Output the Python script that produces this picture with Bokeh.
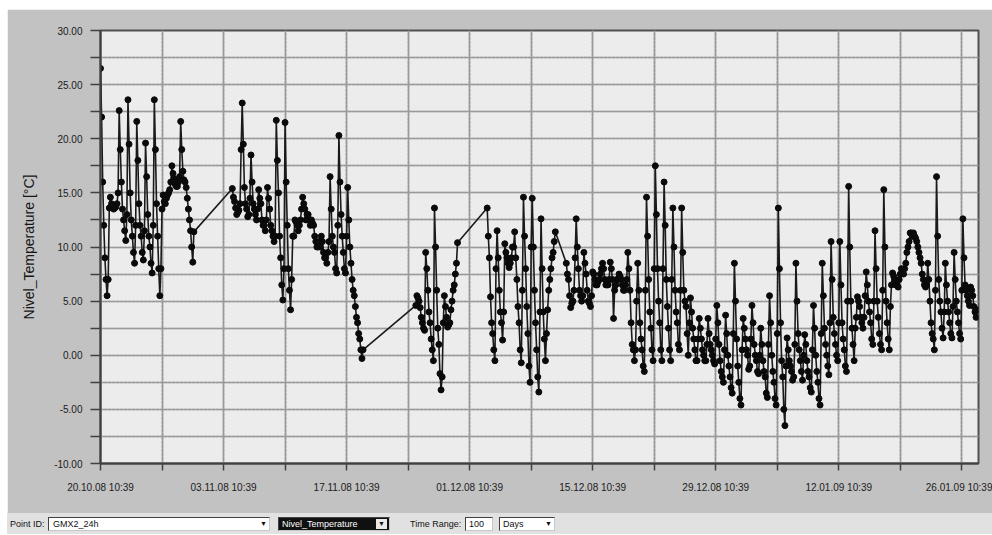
from bokeh.plotting import figure
from bokeh.models import Range1d, FixedTicker, PrintfTickFormatter, Grid, Div
from bokeh.layouts import column
from bokeh.embed import file_html
from bokeh.resources import INLINE

# ---------------- data ----------------
# temperatures sampled every 3 hours (8 per day), days counted from 20.10.08 10:39
SAMPLES_PER_DAY = 8

START_A = 0.0
TEMP_A = [
    26.5, 22.0, 16.0, 12.0, 9.0, 7.0, 5.5, 7.0,
    13.6, 14.6, 14.0, 13.8, 13.5, 13.6, 13.7, 14.0,
    15.0, 22.6, 19.0, 16.0, 13.5, 12.5, 11.5, 10.6,
    13.0, 23.6, 19.5, 15.0, 12.5, 11.0, 9.5, 8.5,
    12.0, 21.6, 18.0, 14.0, 12.0, 11.0, 9.5, 8.8,
    11.5, 19.6, 16.5, 13.0, 11.0, 10.0, 8.5, 7.6,
    12.0, 23.6, 19.0, 14.0, 11.0, 8.0, 5.5, 8.0,
    13.5, 14.8, 14.2, 14.0, 14.5, 14.8, 15.0, 15.3,
    16.0, 17.5, 16.8, 16.3, 15.8, 15.6, 15.6, 16.0,
    16.5, 21.6, 19.0, 17.0, 16.2, 16.0, 15.5, 14.5,
    13.5, 12.5, 11.5, 10.0, 8.6, 11.4,
]

START_B = 15.0
TEMP_B = [
    15.4, 14.6, 14.2, 13.6, 13.0, 13.2, 13.4, 14.0,
    19.0, 23.3, 19.5, 15.5, 14.0, 13.5, 12.8, 13.0,
    14.5, 18.5, 16.0, 14.0, 13.5, 13.0, 12.5, 13.5,
    15.3, 14.5, 14.0, 12.5, 12.0, 12.0, 11.5, 12.5,
    15.5, 14.5, 13.5, 12.0, 11.5, 11.0, 10.5, 11.0,
    21.7, 18.0, 15.0, 11.0, 9.0, 6.5, 5.1, 8.0,
    21.5, 16.0, 12.0, 8.0, 6.0, 4.2, 7.0, 11.0,
    11.0, 12.5, 12.3, 12.0, 11.5, 12.0, 12.5, 13.5,
    14.6, 14.0, 13.5, 12.5, 13.0, 13.0, 12.5, 12.0,
    12.5, 12.2, 12.0, 11.0, 10.5, 10.0, 10.0, 10.5,
    10.0, 11.0, 10.5, 9.5, 9.0, 9.0, 8.5, 9.5,
    10.5, 16.5, 13.5, 11.0, 10.0, 9.5, 8.0, 7.6,
    12.0, 20.3, 16.0, 13.0, 11.0, 9.5, 8.0, 7.6,
    11.0, 15.5, 12.5, 10.0, 8.5, 7.0, 6.0, 5.5,
    4.5, 3.5, 3.0, 2.0, 1.5, 0.5, -0.3, 0.5,
]

START_C = 35.875
TEMP_C = [
    4.6,
    5.5, 5.3, 5.0, 4.4, 3.5, 3.0, 2.5, 2.3,
    9.5, 8.0, 6.0, 4.0, 3.0, 1.5, 0.5, -0.5,
    13.6, 10.0, 6.0, 2.5, 1.0, -1.7, -3.2, -2.0,
    3.0, 5.5, 4.5, 3.5, 2.6, 2.8, 3.0, 4.2,
    5.0, 6.0, 6.5, 7.5, 8.5, 10.4,
]

START_D = 44.0
TEMP_D = [
    13.6, 11.0, 9.0, 5.4, 3.0, 2.0, 0.5, -0.5,
    8.0, 11.5, 9.0, 6.0, 4.0, 3.0, 1.4, 4.0,
    10.3, 9.5, 9.0, 8.5, 8.1, 8.5, 9.0, 10.0,
    10.0, 11.4, 9.0, 7.0, 4.5, 3.0, 0.5, -0.7,
    6.0, 14.6, 11.0, 8.0, 4.5, 2.0, -1.0, -2.5,
    10.0, 14.5, 10.0, 6.0, 3.0, 0.5, -2.0, -3.4,
    4.0, 12.6, 8.0, 4.0, 1.5, -0.5, 2.0, 4.2,
    6.0, 7.0, 8.0, 9.0, 9.5, 10.5, 11.4,
]

START_E = 53.0
TEMP_E = [
    8.5, 7.5, 7.0, 5.5, 4.4, 4.8, 5.0, 6.0,
    9.0, 12.6, 10.0, 8.0, 6.0, 5.5, 5.0, 5.5,
    9.5, 8.5, 7.5, 6.0, 5.0, 4.8, 4.5, 5.5,
    7.7, 7.5, 7.0, 6.5, 6.5, 6.8, 7.0, 7.5,
    8.0, 8.5, 8.0, 7.0, 6.5, 6.5, 6.5, 7.0,
    8.6, 8.0, 7.0, 3.4, 6.0, 6.5, 7.0, 7.0,
    7.5, 7.3, 7.0, 6.5, 6.0, 6.0, 6.5, 7.0,
    9.5, 8.0, 6.0, 3.0, 1.0, 0.5, -0.5, 0.5,
    5.0, 8.5, 6.0, 3.0, 1.5, 0.5, -1.0, -1.5,
    6.0, 14.6, 11.0, 7.0, 4.0, 2.5, 0.5, -0.5,
    8.0, 17.5, 13.0, 8.0, 5.0, 3.0, 0.5, -0.5,
    8.0, 16.0, 12.0, 7.0, 4.5, 2.5, 0.5, -0.5,
    7.0, 13.6, 10.0, 6.0, 4.0, 3.0, 1.0, 0.5,
    6.0, 13.6, 9.5, 6.0, 5.0, 4.5, 2.0, 0.0,
    3.0, 5.3, 4.0, 2.5, 1.5, 0.5, -0.5, -0.5,
    1.5, 3.4, 2.5, 1.5, 0.5, 0.0, -0.5, -0.5,
    1.0, 3.4, 2.0, 1.0, 0.5, 0.0, -0.5, -0.8,
    1.5, 4.6, 3.0, 1.0, -0.5, -1.5, -2.0, -2.5,
    0.5, 3.7, 2.0, 0.0, -1.0, -2.0, -3.0, -3.5,
    2.0, 8.5, 5.0, 1.5, -1.0, -2.5, -4.0, -4.6,
    0.5, 3.4, 2.5, 1.5, 0.5, 0.0, -1.3, -1.0,
    1.5, 4.6, 3.0, 1.0, 0.0, -0.5, -1.5, -1.7,
    0.0, 2.5, 1.0, -0.5, -1.5, -2.0, -3.5, -3.9,
    1.0, 5.5, 3.0, 0.0, -1.5, -2.5, -4.0, -4.6,
    2.0, 13.6, 8.0, 3.0, -0.5, -2.0, -5.0, -6.5,
    -1.0, 1.6, 0.5, -0.5, -1.0, -1.5, -2.3, -2.0,
    1.0, 8.5, 5.0, 2.0, 0.5, -0.5, -1.5, -2.3,
    0.0, 1.9, 1.0, -0.5, -1.5, -2.0, -3.0, -3.4,
    0.5, 4.6, 2.5, 0.0, -1.5, -2.5, -4.0, -4.6,
    2.0, 8.5, 5.5, 2.5, 1.0, 0.0, -1.0, -1.8,
    3.0, 10.5, 7.0, 3.5, 2.0, 1.0, 0.0, -0.5,
    3.0, 10.5, 6.5, 3.0, 1.5, 0.5, -1.0, -1.5,
    5.0, 15.6, 10.0, 5.0, 2.5, 1.0, -0.5, 2.5,
    3.5, 5.4, 5.0, 4.5, 3.5, 3.0, 2.5, 3.5,
    5.5, 7.7, 6.5, 5.0, 4.0, 3.0, 1.5, 1.0,
    5.0, 11.5, 8.0, 5.0, 3.5, 2.0, 1.0, 0.5,
    6.0, 15.3, 10.0, 5.0, 3.0, 1.5, 0.5, 4.5,
    6.5, 7.6, 7.3, 7.0, 6.5, 6.5, 6.3, 7.0,
    7.5, 8.0, 7.8, 7.5, 8.0, 8.5, 9.5, 10.0,
    10.5, 11.3, 11.3, 11.0, 11.3, 11.0, 10.8, 10.5,
    10.0, 9.5, 9.0, 8.5, 7.5, 7.0, 6.5, 6.3,
    6.5, 8.5, 7.0, 5.0, 3.0, 2.0, 1.5, 0.5,
    6.0, 16.5, 11.0, 7.0, 5.0, 4.0, 2.5, 1.6,
    4.0, 8.5, 6.5, 5.0, 4.0, 3.0, 2.0, 1.6,
    4.5, 9.5, 7.0, 5.0, 4.0, 3.0, 2.0, 1.5,
    6.0, 12.6, 9.0, 6.5, 6.0, 5.5, 5.0, 4.6,
    6.3, 6.0, 5.5, 4.5, 4.0, 3.5, 4.2,
]

TICK_DAYS = [0, 14, 28, 42, 56, 70, 84, 98]
TICK_LABELS = ["20.10.08 10:39", "03.11.08 10:39", "17.11.08 10:39", "01.12.08 10:39",
               "15.12.08 10:39", "29.12.08 10:39", "12.01.09 10:39", "26.01.09 10:39"]
Y_TICKS = [-10, -5, 0, 5, 10, 15, 20, 25, 30]
Y_LABEL = "Nivel_Temperature [°C]"

# ---------------- assemble series ----------------
times, temps = [], []
for start, vals in [(START_A, TEMP_A), (START_B, TEMP_B), (START_C, TEMP_C),
                    (START_D, TEMP_D), (START_E, TEMP_E)]:
    for i, val in enumerate(vals):
        times.append(start + i / SAMPLES_PER_DAY)
        temps.append(val)

FONT = "Liberation Sans"

p = figure(width=985, height=504, title=None,
           x_range=Range1d(0, 99.9), y_range=Range1d(-10, 30),
           output_backend="svg", toolbar_location=None,
           min_border_left=93, min_border_right=14, min_border_top=21, min_border_bottom=50)
p.background_fill_color = "#ececec"
p.border_fill_color = "#c2c2c2"
p.outline_line_color = "#505050"
p.outline_line_width = 2

# texture grids (fine dotted mesh of the plot area)
fine_x = [k * 7 / 12 for k in range(0, 172) if k % 12 != 0]
fine_y = [-10 + k * 0.5 for k in range(0, 81) if k % 5 != 0]
p.add_layout(Grid(dimension=0, ticker=FixedTicker(ticks=fine_x), grid_line_color="#c9c9c9",
                  grid_line_dash="2 2", grid_line_width=1))
p.add_layout(Grid(dimension=1, ticker=FixedTicker(ticks=fine_y), grid_line_color="#c9c9c9",
                  grid_line_dash="2 2", grid_line_width=1))

minor_x = [d + 7 for d in TICK_DAYS if d + 7 < 100]
minor_y = [y + 2.5 for y in Y_TICKS[:-1]]

p.xgrid.ticker = FixedTicker(ticks=sorted(TICK_DAYS + minor_x))
p.ygrid.ticker = FixedTicker(ticks=sorted(Y_TICKS + minor_y))
for g in (p.xgrid, p.ygrid):
    g.grid_line_color = "#9a9a9a"
    g.grid_line_width = 1.6

p.xaxis.ticker = FixedTicker(ticks=TICK_DAYS, minor_ticks=minor_x)
p.xaxis.major_label_overrides = {d: lab for d, lab in zip(TICK_DAYS, TICK_LABELS)}
p.yaxis.ticker = FixedTicker(ticks=Y_TICKS, minor_ticks=minor_y)
p.yaxis.formatter = PrintfTickFormatter(format="%.2f")

for ax in (p.xaxis, p.yaxis):
    ax.axis_line_color = "#404040"
    ax.axis_line_width = 2
    ax.major_tick_line_color = "#404040"
    ax.minor_tick_line_color = "#404040"
    ax.major_tick_line_width = 1.5
    ax.minor_tick_line_width = 1.5
    ax.major_tick_in = 0
    ax.minor_tick_in = 0
    ax.major_label_text_font = FONT
    ax.major_label_text_font_size = "10px"
    ax.major_label_text_color = "#202020"

p.xaxis.major_tick_out = 7
p.xaxis.minor_tick_out = 7
p.xaxis.major_label_standoff = 11
p.yaxis.major_tick_out = 10
p.yaxis.minor_tick_out = 10
p.yaxis.major_label_standoff = 8

p.yaxis.axis_label = Y_LABEL
p.yaxis.axis_label_text_font = FONT
p.yaxis.axis_label_text_font_size = "14px"
p.yaxis.axis_label_text_font_style = "normal"
p.yaxis.axis_label_text_color = "#151515"
p.yaxis.axis_label_standoff = 14

p.line(times, temps, line_color="#1a1a1a", line_width=1.6)
p.scatter(times, temps, marker="circle", size=6, fill_color="#0a0a0a", line_color="#0a0a0a")

# ---------------- control strip (HTML) ----------------
ctrl_font = "font-family:'Liberation Sans',Arial,sans-serif;font-size:9px;line-height:10px;color:#111;"
box = "position:absolute;top:4px;height:14px;border:1px solid #404040;border-right-color:#c8c8c8;border-bottom-color:#c8c8c8;box-sizing:border-box;"
arrow = "position:absolute;right:2px;top:1px;font-size:7px;"
strip_html = (
    f'<div style="position:relative;width:985px;height:21px;background:#e1e1e1;overflow:hidden;{ctrl_font}">'
    '<span style="position:absolute;left:3px;top:6px;">Point ID:</span>'
    f'<div style="{box}left:41px;width:222px;background:#ffffff;">'
    f'<span style="position:absolute;left:4px;top:1px;">GMX2_24h</span><span style="{arrow}">▼</span></div>'
    f'<div style="{box}left:271px;width:112px;background:#101010;">'
    '<span style="position:absolute;left:3px;top:1px;color:#ffffff;">Nivel_Temperature</span>'
    f'<span style="{arrow}background:#e8e8e8;padding:0 2px;">▼</span></div>'
    '<span style="position:absolute;left:403px;top:6px;">Time Range:</span>'
    f'<div style="{box}left:458px;width:28px;background:#ffffff;">'
    '<span style="position:absolute;left:3px;top:1px;">100</span></div>'
    f'<div style="{box}left:492px;width:56px;background:#ffffff;">'
    f'<span style="position:absolute;left:3px;top:1px;">Days</span><span style="{arrow}">▼</span></div>'
    '</div>'
)
strip = Div(text=strip_html, width=985, height=21, margin=0)

layout = column(p, strip, margin=(9, 0, 0, 7), spacing=0)
open("out.html", "w").write(file_html(layout, INLINE))
